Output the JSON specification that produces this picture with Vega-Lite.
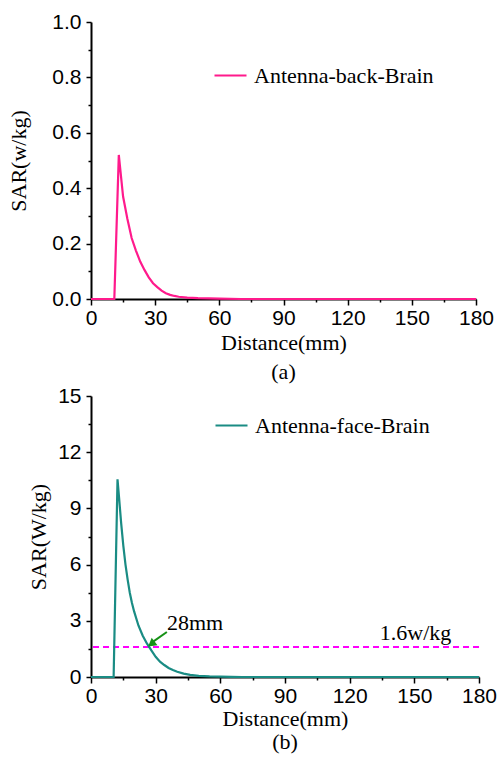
{
  "$schema": "https://vega.github.io/schema/vega-lite/v6.json",
  "background": "white",
  "padding": {"top": 11, "left": 7, "right": 5, "bottom": 5},
  "spacing": 2,
  "resolve": {"scale": {"color": "independent"}, "legend": {"color": "independent"}},
  "datasets": {
    "back": [
      {"distance": 0, "sar": 0, "series": "Antenna-back-Brain"},
      {"distance": 10.9, "sar": 0, "series": "Antenna-back-Brain"},
      {"distance": 13, "sar": 0.52, "series": "Antenna-back-Brain"},
      {"distance": 15, "sar": 0.37, "series": "Antenna-back-Brain"},
      {"distance": 17, "sar": 0.29, "series": "Antenna-back-Brain"},
      {"distance": 19, "sar": 0.22, "series": "Antenna-back-Brain"},
      {"distance": 21, "sar": 0.175, "series": "Antenna-back-Brain"},
      {"distance": 23, "sar": 0.135, "series": "Antenna-back-Brain"},
      {"distance": 25, "sar": 0.105, "series": "Antenna-back-Brain"},
      {"distance": 27, "sar": 0.078, "series": "Antenna-back-Brain"},
      {"distance": 29, "sar": 0.057, "series": "Antenna-back-Brain"},
      {"distance": 31, "sar": 0.043, "series": "Antenna-back-Brain"},
      {"distance": 33, "sar": 0.03, "series": "Antenna-back-Brain"},
      {"distance": 35, "sar": 0.021, "series": "Antenna-back-Brain"},
      {"distance": 37, "sar": 0.015, "series": "Antenna-back-Brain"},
      {"distance": 39, "sar": 0.011, "series": "Antenna-back-Brain"},
      {"distance": 41, "sar": 0.008, "series": "Antenna-back-Brain"},
      {"distance": 45, "sar": 0.005, "series": "Antenna-back-Brain"},
      {"distance": 50, "sar": 0.003, "series": "Antenna-back-Brain"},
      {"distance": 55, "sar": 0.002, "series": "Antenna-back-Brain"},
      {"distance": 60, "sar": 0.001, "series": "Antenna-back-Brain"},
      {"distance": 70, "sar": 0, "series": "Antenna-back-Brain"},
      {"distance": 180, "sar": 0, "series": "Antenna-back-Brain"}
    ],
    "face": [
      {"distance": 0, "sar": 0, "series": "Antenna-face-Brain"},
      {"distance": 10.5, "sar": 0, "series": "Antenna-face-Brain"},
      {"distance": 12.3, "sar": 10.55, "series": "Antenna-face-Brain"},
      {"distance": 13, "sar": 9.6, "series": "Antenna-face-Brain"},
      {"distance": 14, "sar": 8.2, "series": "Antenna-face-Brain"},
      {"distance": 15, "sar": 7.0, "series": "Antenna-face-Brain"},
      {"distance": 16, "sar": 6.0, "series": "Antenna-face-Brain"},
      {"distance": 17, "sar": 5.2, "series": "Antenna-face-Brain"},
      {"distance": 18, "sar": 4.5, "series": "Antenna-face-Brain"},
      {"distance": 19, "sar": 3.95, "series": "Antenna-face-Brain"},
      {"distance": 20, "sar": 3.5, "series": "Antenna-face-Brain"},
      {"distance": 22, "sar": 2.75, "series": "Antenna-face-Brain"},
      {"distance": 24, "sar": 2.2, "series": "Antenna-face-Brain"},
      {"distance": 26, "sar": 1.78, "series": "Antenna-face-Brain"},
      {"distance": 28, "sar": 1.42, "series": "Antenna-face-Brain"},
      {"distance": 30, "sar": 1.08, "series": "Antenna-face-Brain"},
      {"distance": 32, "sar": 0.82, "series": "Antenna-face-Brain"},
      {"distance": 34, "sar": 0.64, "series": "Antenna-face-Brain"},
      {"distance": 36, "sar": 0.48, "series": "Antenna-face-Brain"},
      {"distance": 38, "sar": 0.37, "series": "Antenna-face-Brain"},
      {"distance": 40, "sar": 0.28, "series": "Antenna-face-Brain"},
      {"distance": 43, "sar": 0.18, "series": "Antenna-face-Brain"},
      {"distance": 46, "sar": 0.11, "series": "Antenna-face-Brain"},
      {"distance": 50, "sar": 0.06, "series": "Antenna-face-Brain"},
      {"distance": 55, "sar": 0.03, "series": "Antenna-face-Brain"},
      {"distance": 60, "sar": 0.015, "series": "Antenna-face-Brain"},
      {"distance": 65, "sar": 0.005, "series": "Antenna-face-Brain"},
      {"distance": 70, "sar": 0, "series": "Antenna-face-Brain"},
      {"distance": 180, "sar": 0, "series": "Antenna-face-Brain"}
    ],
    "notes": [
      {"distance": 35.2, "sar": 2.87, "label": "28mm"},
      {"distance": 134, "sar": 2.35, "label": "1.6w/kg"}
    ],
    "arrow": [
      {"distance": 35.2, "sar": 2.4, "distance2": 29.0, "sar2": 1.9}
    ],
    "arrowhead": [
      {"distance": 28.0, "sar": 1.76}
    ]
  },
  "config": {
    "view": {"stroke": null},
    "axis": {
      "domainColor": "black",
      "domainWidth": 2,
      "tickColor": "black",
      "tickWidth": 1.5,
      "grid": false,
      "labelFlush": false,
      "labelOverlap": false,
      "labelFont": "Liberation Sans",
      "labelFontSize": 21,
      "labelColor": "black",
      "titleFont": "Liberation Serif",
      "titleFontSize": 22,
      "titleFontWeight": "normal",
      "titleColor": "black"
    },
    "legend": {
      "labelFont": "Liberation Serif",
      "labelFontSize": 22,
      "labelColor": "black",
      "labelLimit": 0,
      "symbolType": "stroke",
      "symbolSize": 1024,
      "symbolStrokeWidth": 2.2,
      "labelOffset": 6,
      "title": null
    },
    "title": {
      "font": "Liberation Serif",
      "fontSize": 22,
      "fontWeight": "normal",
      "color": "black",
      "orient": "bottom",
      "anchor": "middle"
    }
  },
  "vconcat": [
    {
      "width": 385,
      "height": 277,
      "title": {"text": "(a)", "offset": 9},
      "resolve": {"axis": {"x": "independent", "y": "independent"}},
      "layer": [
        {
          "data": {"name": "back"},
          "mark": {"type": "line", "strokeWidth": 2.2, "strokeOpacity": 0},
          "encoding": {
            "x": {
              "field": "distance", "type": "quantitative",
              "scale": {"domain": [0, 180], "nice": false},
              "axis": {"orient": "bottom", "values": [15, 45, 75, 105, 135, 165], "labels": false, "tickSize": 3, "domain": false, "title": null}
            },
            "y": {
              "field": "sar", "type": "quantitative",
              "scale": {"domain": [0, 1], "nice": false},
              "axis": {"orient": "left", "values": [0.1, 0.3, 0.5, 0.7, 0.9], "labels": false, "tickSize": 3, "domain": false, "title": null}
            }
          }
        },
        {
          "data": {"name": "back"},
          "mark": {"type": "line", "strokeWidth": 2.2},
          "encoding": {
            "x": {
              "field": "distance", "type": "quantitative",
              "scale": {"domain": [0, 180], "nice": false},
              "axis": {"orient": "bottom", "values": [0, 30, 60, 90, 120, 150, 180], "tickSize": 6, "labelPadding": 2, "title": "Distance(mm)", "titlePadding": 4}
            },
            "y": {
              "field": "sar", "type": "quantitative",
              "scale": {"domain": [0, 1], "nice": false},
              "axis": {"orient": "left", "values": [0, 0.2, 0.4, 0.6, 0.8, 1.0], "format": ".1f", "tickSize": 5, "labelPadding": 5, "title": "SAR(w/kg)", "titlePadding": 21}
            },
            "color": {
              "field": "series", "type": "nominal",
              "scale": {"domain": ["Antenna-back-Brain"], "range": ["#ff1a8c"]},
              "legend": {"orient": "none", "legendX": 122, "legendY": 36}
            }
          }
        }
      ]
    },
    {
      "width": 388,
      "height": 281,
      "title": {"text": "(b)", "offset": 3},
      "resolve": {"axis": {"x": "independent", "y": "independent"}},
      "layer": [
        {
          "data": {"name": "face"},
          "mark": {"type": "line", "strokeWidth": 2.2, "strokeOpacity": 0},
          "encoding": {
            "x": {
              "field": "distance", "type": "quantitative",
              "scale": {"domain": [0, 180], "nice": false},
              "axis": {"orient": "bottom", "values": [15, 45, 75, 105, 135, 165], "labels": false, "tickSize": 3, "domain": false, "title": null}
            },
            "y": {
              "field": "sar", "type": "quantitative",
              "scale": {"domain": [0, 15], "nice": false},
              "axis": {"orient": "left", "values": [1.5, 4.5, 7.5, 10.5, 13.5], "labels": false, "tickSize": 3, "domain": false, "title": null}
            }
          }
        },
        {
          "data": {"name": "face"},
          "mark": {"type": "rule", "color": "#ff00ff", "strokeWidth": 2, "strokeDash": [6, 4]},
          "encoding": {"y": {"datum": 1.6, "axis": null}}
        },
        {
          "data": {"name": "face"},
          "mark": {"type": "line", "strokeWidth": 2.2},
          "encoding": {
            "x": {
              "field": "distance", "type": "quantitative",
              "scale": {"domain": [0, 180], "nice": false},
              "axis": {"orient": "bottom", "values": [0, 30, 60, 90, 120, 150, 180], "tickSize": 6, "labelPadding": 2, "title": "Distance(mm)", "titlePadding": 2}
            },
            "y": {
              "field": "sar", "type": "quantitative",
              "scale": {"domain": [0, 15], "nice": false},
              "axis": {"orient": "left", "values": [0, 3, 6, 9, 12, 15], "tickSize": 5, "labelPadding": 5, "title": "SAR(W/kg)", "titlePadding": 7}
            },
            "color": {
              "field": "series", "type": "nominal",
              "scale": {"domain": ["Antenna-face-Brain"], "range": ["#1a8c84"]},
              "legend": {"orient": "none", "legendX": 123, "legendY": 12}
            }
          }
        },
        {
          "data": {"name": "arrow"},
          "mark": {"type": "rule", "color": "#169116", "strokeWidth": 2},
          "encoding": {
            "x": {"field": "distance", "type": "quantitative", "axis": null},
            "y": {"field": "sar", "type": "quantitative", "axis": null},
            "x2": {"field": "distance2"},
            "y2": {"field": "sar2"}
          }
        },
        {
          "data": {"name": "arrowhead"},
          "mark": {"type": "point", "shape": "triangle-up", "filled": true, "color": "#169116", "size": 90, "angle": 232, "opacity": 1},
          "encoding": {
            "x": {"field": "distance", "type": "quantitative", "axis": null},
            "y": {"field": "sar", "type": "quantitative", "axis": null}
          }
        },
        {
          "data": {"name": "notes"},
          "mark": {"type": "text", "font": "Liberation Serif", "fontSize": 22, "color": "black", "baseline": "middle", "align": "left"},
          "encoding": {
            "x": {"field": "distance", "type": "quantitative", "axis": null},
            "y": {"field": "sar", "type": "quantitative", "axis": null},
            "text": {"field": "label"}
          }
        }
      ]
    }
  ]
}
